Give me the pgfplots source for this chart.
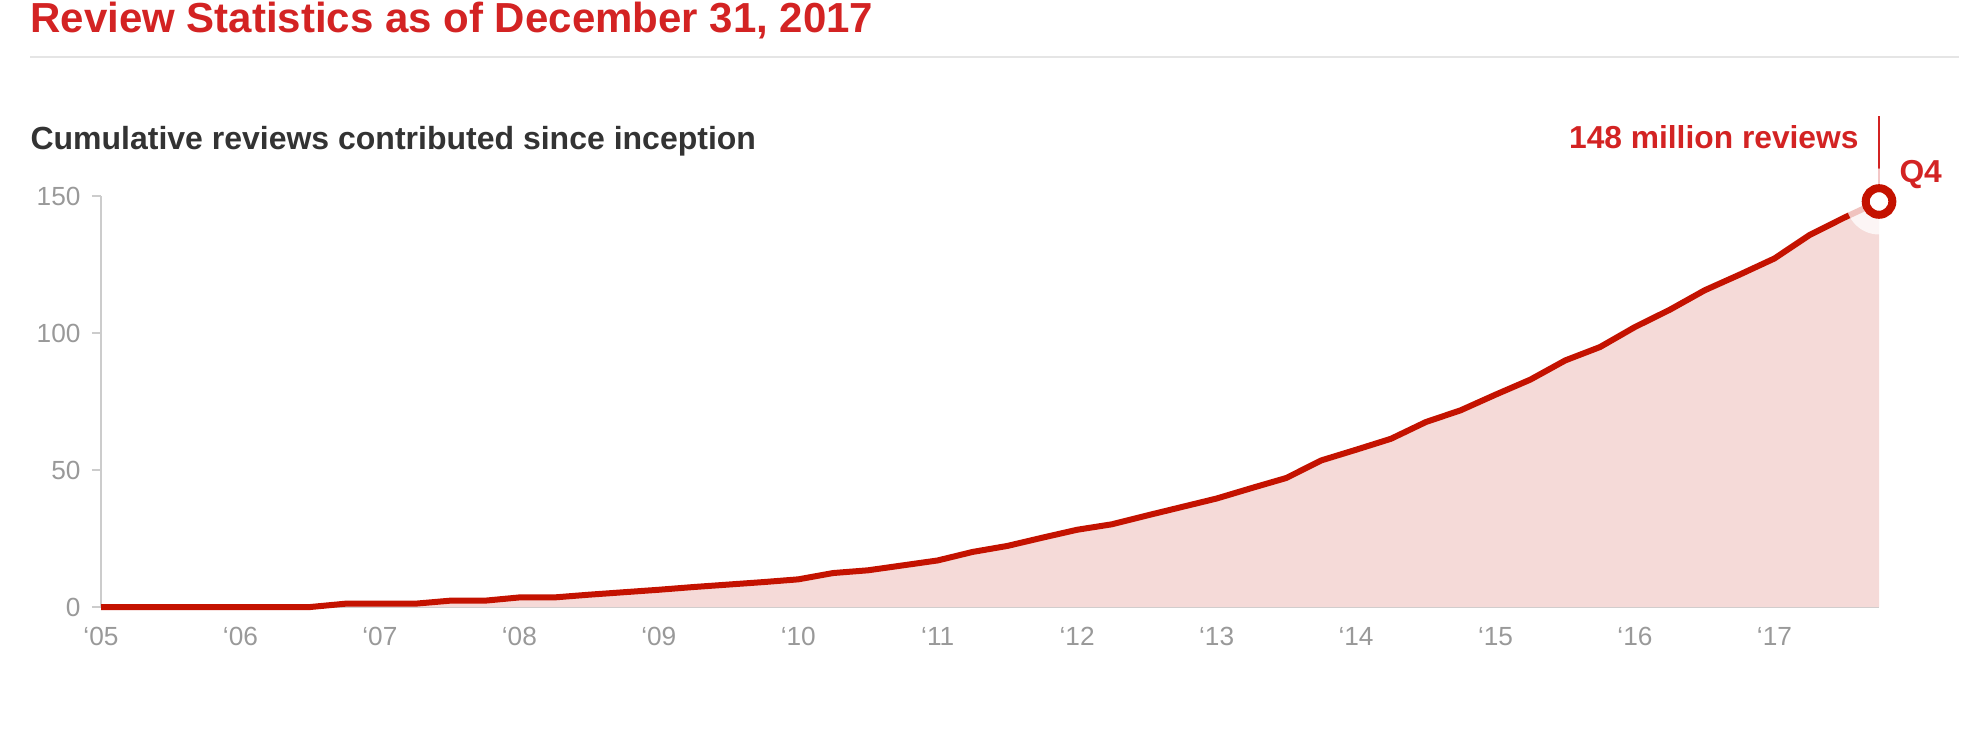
\documentclass[border=0pt]{standalone}
\usepackage{pgfplots}
\pgfplotsset{compat=1.18}
\usepackage{fontspec}
\setmainfont{Liberation Sans}
\definecolor{linered}{RGB}{196,18,0}
\definecolor{titlered}{RGB}{211,35,35}
\definecolor{fillpink}{RGB}{245,218,216}
\definecolor{tickgray}{RGB}{153,153,153}
\definecolor{axisgray}{RGB}{204,204,204}
\definecolor{rulegray}{RGB}{229,229,229}
\definecolor{subdark}{RGB}{51,51,51}

\pgfplotstableread{
x y
2005.00 0
2005.25 0
2005.50 0
2005.75 0
2006.00 0
2006.25 0
2006.50 0
2006.75 1.2
2007.00 1.2
2007.25 1.2
2007.50 2.3
2007.75 2.3
2008.00 3.5
2008.25 3.5
2008.50 4.5
2008.75 5.4
2009.00 6.3
2009.25 7.3
2009.50 8.2
2009.75 9.1
2010.00 10.1
2010.25 12.4
2010.50 13.4
2010.75 15.2
2011.00 17.0
2011.25 20.1
2011.50 22.3
2011.75 25.3
2012.00 28.2
2012.25 30.2
2012.50 33.4
2012.75 36.5
2013.00 39.6
2013.25 43.4
2013.50 47.1
2013.75 53.5
2014.00 57.4
2014.25 61.4
2014.50 67.5
2014.75 71.8
2015.00 77.5
2015.25 83.0
2015.50 90.0
2015.75 94.9
2016.00 102.2
2016.25 108.5
2016.50 115.6
2016.75 121.3
2017.00 127.2
2017.25 135.7
2017.50 142.1
2017.75 148
}\reviews

\begin{document}
\begin{tikzpicture}
\path[use as bounding box] (0,0) rectangle (794pt,-295.6pt);
% title
\node[anchor=base west, inner sep=0pt, text=titlered,
      font=\fontsize{16.8}{20}\selectfont\bfseries] at (12pt,-13.1pt)
      {Review Statistics as of December 31, 2017};
\draw[rulegray, line width=0.8pt] (12pt,-22.8pt) -- (783.6pt,-22.8pt);
% subtitle
\node[anchor=base west, inner sep=0pt, text=subdark,
      font=\fontsize{12.8}{15}\selectfont\bfseries] at (12pt,-59.7pt)
      {Cumulative reviews contributed since inception};
% annotation texts
\node[anchor=base east, inner sep=0pt, text=titlered,
      font=\fontsize{12.7}{15}\selectfont\bfseries] at (743.6pt,-59.2pt)
      {148 million reviews};
\node[anchor=base west, inner sep=0pt, text=titlered,
      font=\fontsize{12.7}{15}\selectfont\bfseries] at (759.6pt,-72.8pt)
      {Q4};

\begin{axis}[
  at={(40.4pt,-242.8pt)}, anchor=south west,
  scale only axis,
  width=711.2pt, height=164.4pt,
  xmin=2005, xmax=2017.75,
  ymin=0, ymax=150,
  enlargelimits=false,
  clip=false,
  axis x line=bottom, axis y line=left,
  axis line style={draw=axisgray, line width=0.8pt, -},
  tick align=outside,
  major tick length=3.7pt,
  xtick={2005,2006,2007,2008,2009,2010,2011,2012,2013,2014,2015,2016,2017},
  xticklabels={‘05,‘06,‘07,‘08,‘09,‘10,‘11,‘12,‘13,‘14,‘15,‘16,‘17},
  ytick={0,50,100,150},
  xtick style={draw=none},
  ytick style={draw=axisgray, line width=0.8pt},
  scaled x ticks=false,
  /pgf/number format/assume math mode=true,
  tick label style={text=tickgray, font=\fontsize{10.5}{12}\selectfont},
  yticklabel style={anchor=east, inner sep=0pt, xshift=-4.3pt},
  xticklabel style={anchor=north, inner sep=0pt, yshift=-4.2pt},
]
\addplot[draw=none, fill=fillpink] table[x=x,y=y] {\reviews} \closedcycle;
\addplot[linered, line width=2.4pt, line join=round] table[x=x,y=y] {\reviews};
% halo around the highlighted point
\addplot[draw=none, only marks, mark=*, mark size=13.2pt,
         mark options={draw=white, draw opacity=0, fill=white, fill opacity=0.75, line width=0pt}]
         coordinates {(2017.75,148)};
% leader line
\addplot[titlered, line width=0.8pt] coordinates {(2017.75,148) (2017.75,179.2)};
% ring marker
\addplot[only marks, mark=*, mark size=5.32pt,
         mark options={draw=linered, fill=white, line width=3.2pt}]
         coordinates {(2017.75,148)};
\end{axis}
\end{tikzpicture}
\end{document}
